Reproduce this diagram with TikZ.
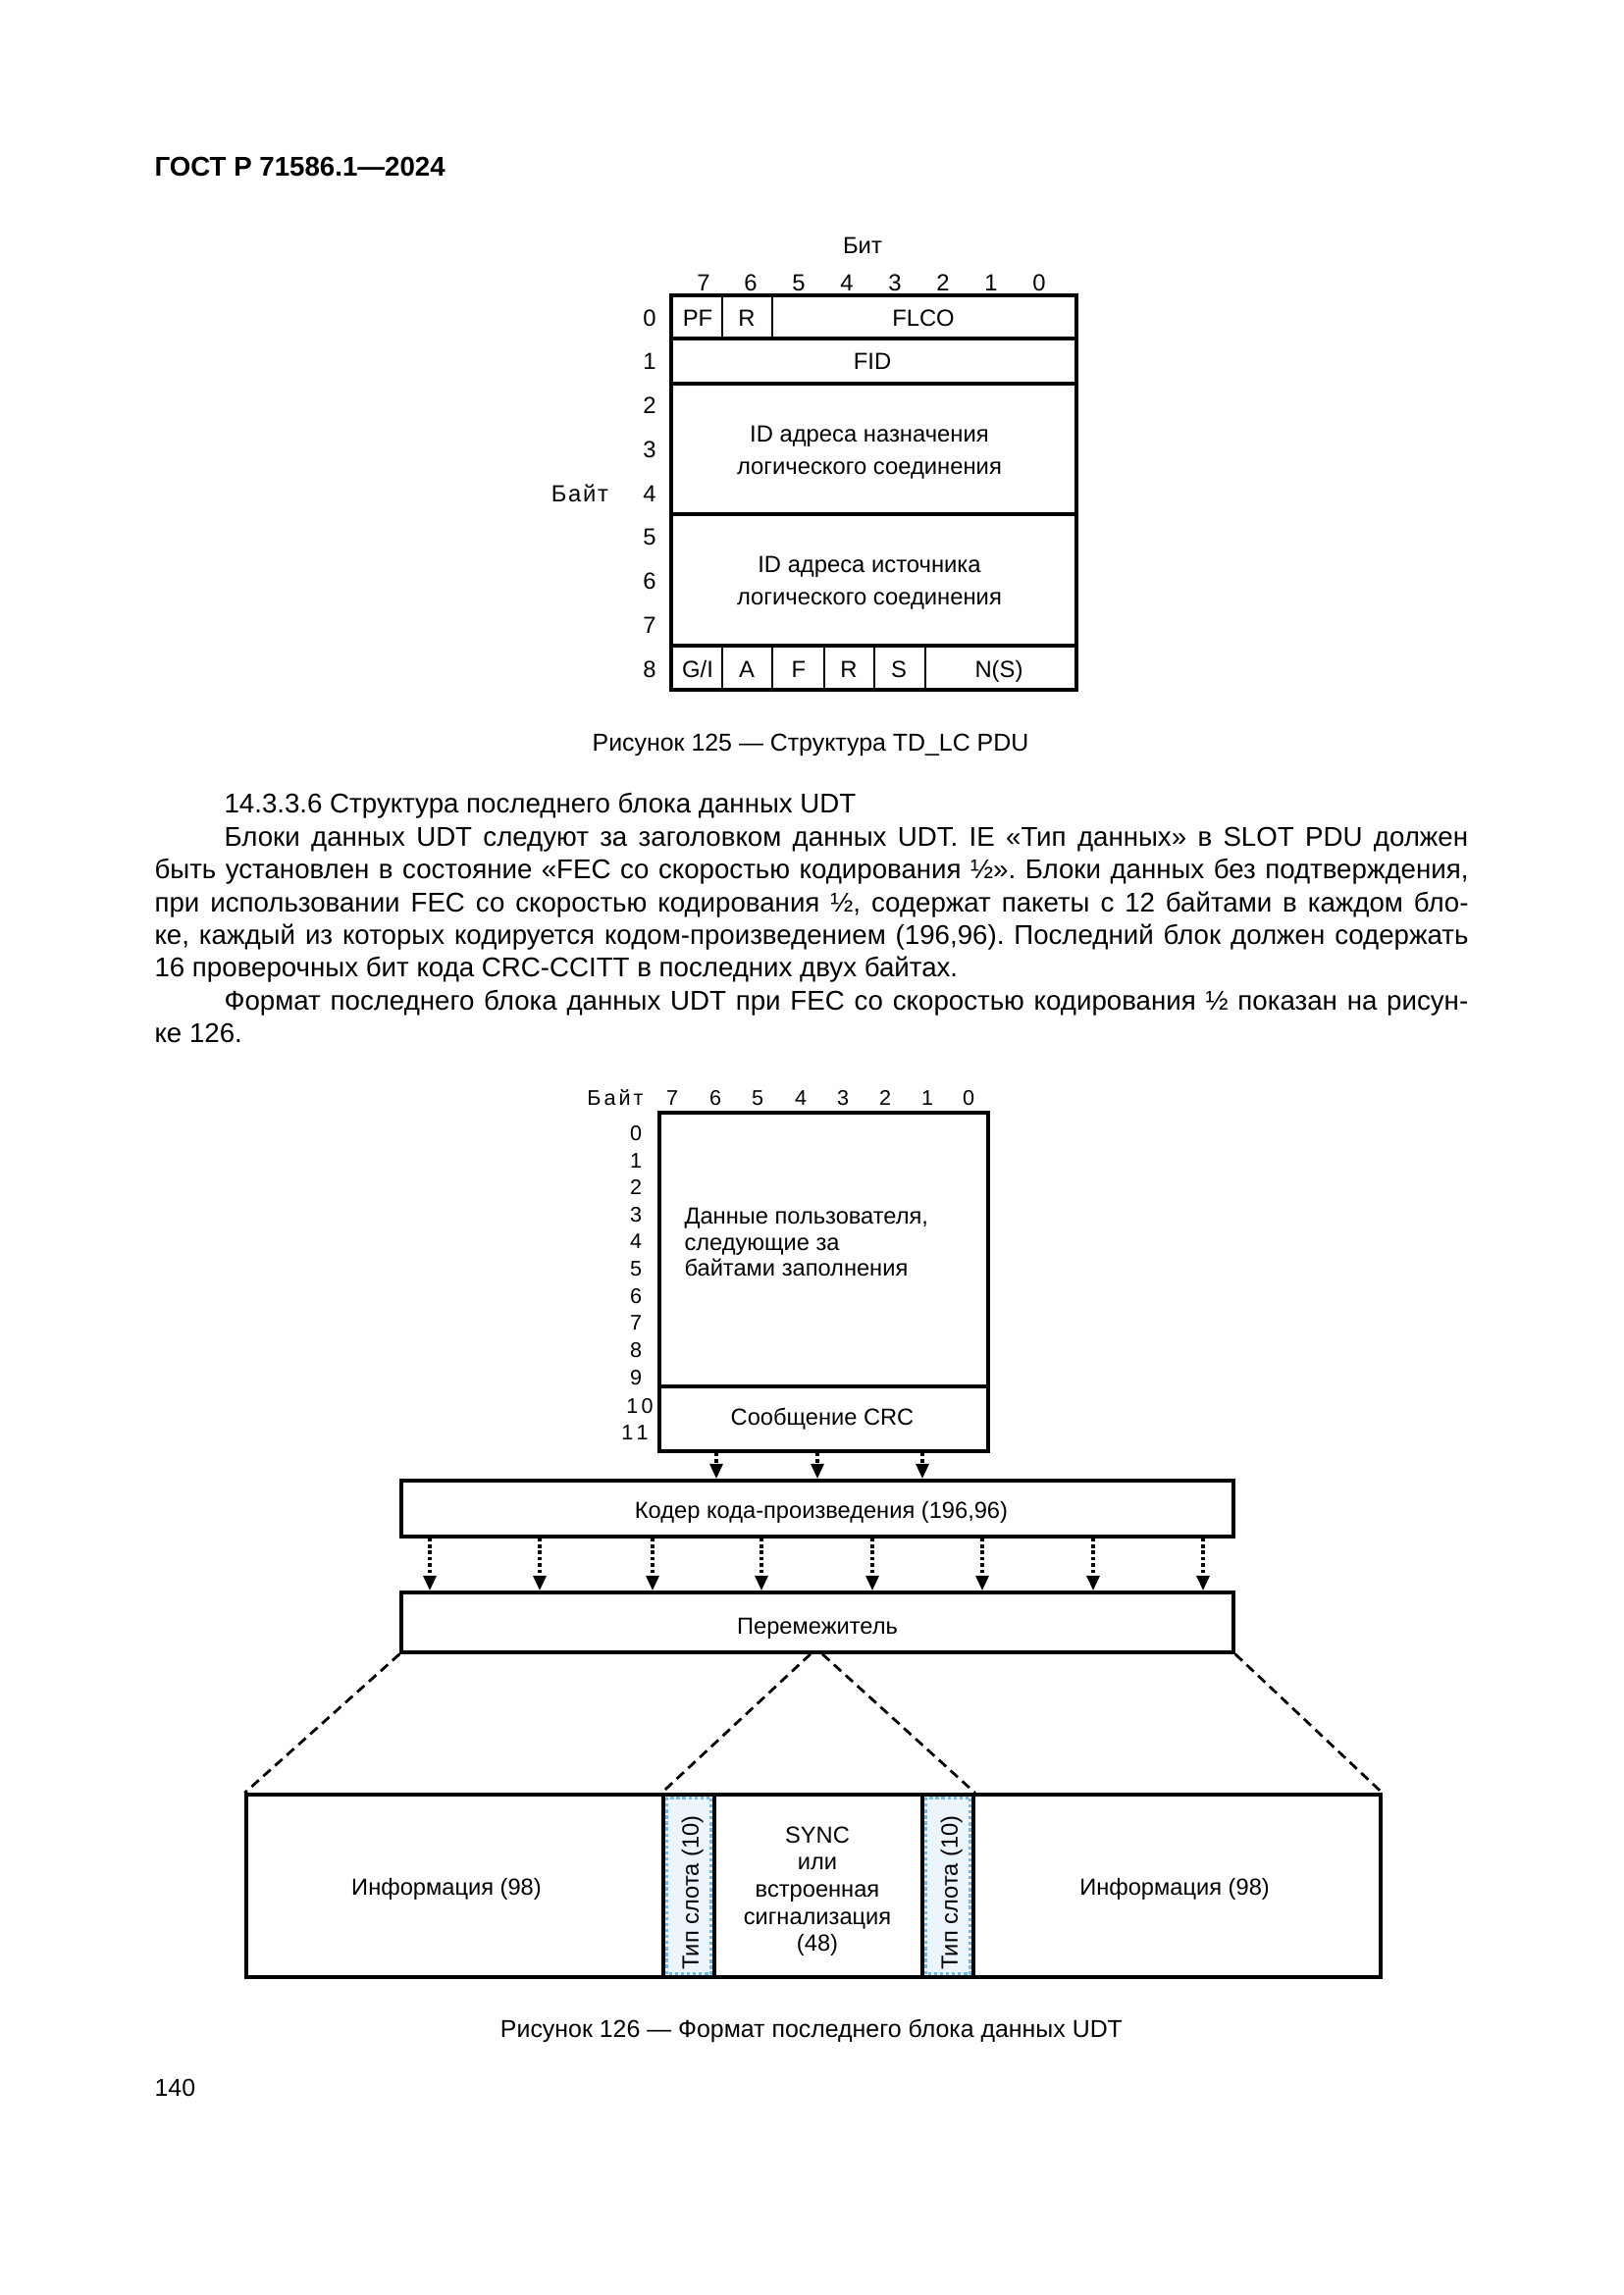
\documentclass[tikz,border=0pt]{standalone}
\usepackage{fontspec}
\setmainfont{Liberation Sans}
\usetikzlibrary{arrows.meta,fit}
\definecolor{slotblue}{RGB}{110,185,235}
\definecolor{slotbg}{RGB}{236,245,252}
\begin{document}
\frenchspacing
\begin{tikzpicture}[x=0.127mm, y=-0.127mm,
  t/.style={inner sep=0pt, text height=0.72em, text depth=0pt},
  fa/.style={t, font=\fontsize{8.6}{12.2}\selectfont},
  fn/.style={t, font=\fontsize{7.8}{10}\selectfont},
  fb/.style={t, font=\fontsize{8.55}{10}\selectfont},
  body/.style={t, anchor=west, font=\fontsize{10}{12}\selectfont},
  capt/.style={t, font=\fontsize{9}{12}\selectfont},
  rowline/.style={line width=1.1pt},
  colline/.style={line width=0.8pt},
  boxb/.style={draw, line width=1.25pt, inner sep=0pt},
  arr/.style={line width=1.4pt, dash pattern=on 1.3pt off 1pt, -{Triangle[length=5.6pt,width=4.6pt]}},
  fan/.style={line width=1pt, dash pattern=on 3.6pt off 2.2pt},
  slotpat/.style={fill=slotbg, draw=slotblue, densely dotted, line width=1.2pt}
]
\fill[white] (0,0) rectangle (1654,2339);
\useasboundingbox (0,0) rectangle (1654,2339);

% header
\node[t, anchor=west, font=\fontsize{10}{12}\selectfont\bfseries] (hdr) at (157,170) {ГОСТ Р 71586.1—2024};

% ---------- Figure 125 ----------
\node[fa] (bit) at (879,249) {Бит};
\foreach \b/\xx in {7/717,6/765,5/814,4/863,3/912,2/961,1/1010,0/1059}
  \node[fa] (b\b) at (\xx,287) {\b};
\foreach \r/\yy in {0/323,1/367,2/412,3/457,4/502,5/546,6/591,7/636,8/681}
  \node[fa] (r\r) at (662,\yy) {\r};
\node[fa, font=\fontsize{8.6}{12.2}\selectfont\addfontfeature{LetterSpace=7}] (bayt1) at (591,502) {Байт};

\draw[rowline] (684,301) rectangle (1097,703);
\foreach \yy in {345,391,524,658}
  \draw[rowline] (684,\yy) -- (1097,\yy);
\foreach \xx in {736,787}
  \draw[colline] (\xx,301) -- (\xx,345);
\foreach \xx in {736,787,840,891,943}
  \draw[colline] (\xx,658) -- (\xx,703);

\node[fa] (pf) at (711,323) {PF};
\node[fa] (rr) at (761,323) {R};
\node[fa] (flco) at (941,323) {FLCO};
\node[fa] (fid) at (889,367) {FID};
\node[fa, align=center] (dst) at (886,474) {ID адреса назначения\\логического соединения};
\node[fa, align=center] (src) at (886,607) {ID адреса источника\\логического соединения};
\node[fa] (gi) at (711,681) {G/I};
\node[fa] (aa) at (761,681) {A};
\node[fa] (ff) at (814,681) {F};
\node[fa] (r2) at (865,681) {R};
\node[fa] (ss) at (916,681) {S};
\node[fa] (ns) at (1018,681) {N(S)};

\node[capt] (cap1) at (826,756) {Рисунок 125 — Структура TD\_LC PDU};

% ---------- body text ----------
\node[body] (l1) at (228,819) {14.3.3.6 Структура последнего блока данных UDT};
\node[body] (l2) at (228,852.5) {\makebox[161.0mm][s]{Блоки данных UDT следуют за заголовком данных UDT. IE «Тип данных» в SLOT PDU должен}};
\node[body] (l3) at (157,886) {\makebox[170.05mm][s]{быть установлен в состояние «FEC со скоростью кодирования ½». Блоки данных без подтверждения,}};
\node[body] (l4) at (157,919.5) {\makebox[170.05mm][s]{при использовании FEC со скоростью кодирования ½, содержат пакеты с 12 байтами в каждом бло-}};
\node[body] (l5) at (157,953) {\makebox[170.05mm][s]{ке, каждый из которых кодируется кодом-произведением (196,96). Последний блок должен содержать}};
\node[body] (l6) at (157,986) {16 проверочных бит кода CRC-CCITT в последних двух байтах.};
\node[body] (l7) at (228,1019.5) {\makebox[161.0mm][s]{Формат последнего блока данных UDT при FEC со скоростью кодирования ½ показан на рисун-}};
\node[body] (l8) at (157,1053) {ке 126.};

% ---------- Figure 126 ----------
\node[fn, font=\fontsize{7.8}{10}\selectfont\addfontfeature{LetterSpace=14}] (bayt2) at (627,1117) {Байт};
\foreach \b/\xx in {7/685,6/729,5/772,4/816,3/859,2/902,1/945,0/987}
  \node[fn] (c\b) at (\xx,1117) {\b};
\foreach \r/\yy in {0/1153,1/1181,2/1208,3/1236,4/1263,5/1291,6/1319,7/1346,8/1374,9/1402}
  \node[fn] (q\r) at (648,\yy) {\r};
\node[fn] (q10) at (652,1431) {1\kern1.2pt0};
\node[fn] (q11) at (647,1458) {1\kern1.2pt1};

\node[boxb, fit={(672,1134) (1007,1479)}] (udt) {};
\coordinate (sepy) at (0,1413);
\draw[line width=1.25pt] (udt.west |- sepy) -- (udt.east |- sepy);
\node[fb, anchor=west, align=left, font=\fontsize{8.55}{9.72}\selectfont] (user) at (697,1291) {Данные пользователя,\\следующие за\\байтами заполнения};
\node[fb] (crc) at (838,1443) {Сообщение CRC};

\node[boxb, fit={(409,1509) (1257,1566)}] (coder) {};
\node[fb] (codert) at (837,1538) {Кодер кода-произведения (196,96)};
\node[boxb, fit={(409,1623) (1257,1684)}] (inter) {};
\node[fb] (intert) at (833,1656) {Перемежитель};

\foreach \i/\xx in {1/730,2/833,3/940} {
  \coordinate (ta\i) at (\xx,0);
  \draw[arr] (udt.south -| ta\i) -- (coder.north -| ta\i);
}
\foreach \i/\xx in {1/438,2/550,3/665,4/776,5/889,6/1001,7/1114,8/1226} {
  \coordinate (tb\i) at (\xx,0);
  \draw[arr] (coder.south -| tb\i) -- (inter.north -| tb\i);
}

% frame
\draw[slotpat] (679,1832) rectangle (725,2012);
\draw[slotpat] (943,1832) rectangle (989,2012);
\node[boxb, fit={(251,1829) (676,2015)}] (info1) {};
\node[boxb, fit={(676,1829) (728,2015)}] (slot1) {};
\node[boxb, fit={(728,1829) (940,2015)}] (sync) {};
\node[boxb, fit={(940,1829) (992,2015)}] (slot2) {};
\node[boxb, fit={(992,1829) (1407,2015)}] (info2) {};

\node[fb] (info1t) at (455,1922) {Информация (98)};
\node[fb] (info2t) at (1197,1922) {Информация (98)};
\node[fb, rotate=90] (slot1t) at (702,1929) {Тип слота (10)};
\node[fb, rotate=90] (slot2t) at (966,1929) {Тип слота (10)};
\node[fb, align=center] (synct) at (833,1979) {SYNC\\или\\встроенная\\сигнализация\\(48)};

\coordinate (ap1) at (826,0);
\coordinate (ap2) at (838,0);
\draw[fan] (inter.south west) -- (info1.north west);
\draw[fan] (inter.south -| ap1) -- (slot1.north west);
\draw[fan] (inter.south -| ap2) -- (slot2.north east);
\draw[fan] (inter.south east) -- (info2.north east);

\node[capt] (cap2) at (827,2067) {Рисунок 126 — Формат последнего блока данных UDT};

\node[body, font=\fontsize{9}{12}\selectfont] (pg) at (157,2127) {140};
\end{tikzpicture}
\end{document}
